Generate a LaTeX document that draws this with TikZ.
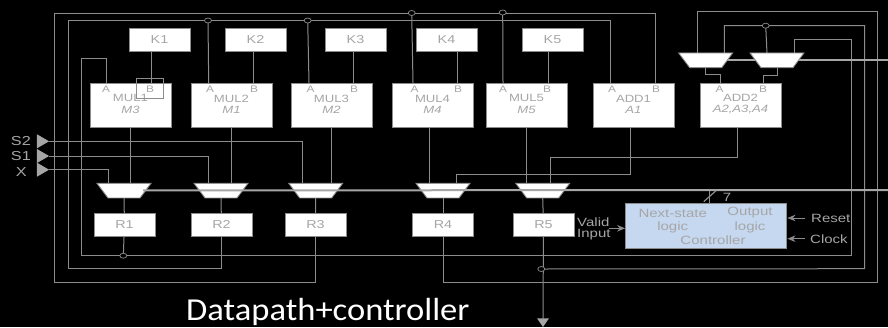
\documentclass[tikz,border=0pt]{standalone}
\usepackage{fontspec}
\setmainfont[FakeStretch=1.25]{Liberation Sans}
\newfontfamily\capfont[FakeStretch=1.08]{Carlito}
\usetikzlibrary{shapes.geometric,arrows.meta}
\definecolor{wire}{HTML}{8C8C8C}
\definecolor{bus}{HTML}{A6A6A6}
\definecolor{lab}{HTML}{A6A6A6}
\definecolor{ctl}{HTML}{C5D8F0}
\newcommand{\muxdraw}[1]{\draw[draw=wire,fill=white,line width=0.9pt] (#1.north west) -- (#1.north east) -- ([xshift=-11pt]#1.south east) -- ([xshift=11pt]#1.south west) -- cycle;}
\tikzset{
  wirel/.style={draw=wire,line width=1pt},
  busl/.style={draw=bus,line width=2pt},
  kbox/.style={draw=wire,fill=white,line width=1pt,minimum width=61pt,minimum height=23pt,inner sep=0pt,text=lab,font=\fontsize{11.5}{12}\selectfont},
  fu/.style={draw=wire,fill=white,line width=1pt,minimum width=81pt,minimum height=44pt,inner sep=0pt,text=lab,align=center,font=\fontsize{10.5}{11.5}\selectfont},
  port/.style={text=lab,inner sep=0pt,font=\fontsize{9.5}{10}\selectfont},
  muxs/.style={minimum width=54pt,minimum height=14.7pt,inner sep=0pt,outer sep=0pt},
  dotn/.style={ellipse,draw=wire,fill=black,line width=0.7pt,minimum width=7pt,minimum height=5pt,inner sep=0pt},
  inp/.style={isosceles triangle,isosceles triangle apex angle=60,fill=lab,draw=none,minimum height=12pt,minimum width=14pt,inner sep=0pt},
  ltxt/.style={text=lab,inner sep=0pt,font=\fontsize{13}{13}\selectfont},
  ctxt/.style={text=lab,inner sep=0pt,font=\fontsize{12}{12}\selectfont},
  arr/.style={draw=wire,line width=1pt,-{Stealth[length=8pt,width=6.5pt]}}
}
\begin{document}
\begin{tikzpicture}[x=1pt,y=-1pt]
\fill[black] (0,0) rectangle (888,327);
\useasboundingbox (0,0) rectangle (888,327);
% coordinates for wire routing
\coordinate (tl1) at (54.5,13.5);
\coordinate (tr1) at (655,13.5);
\coordinate (tl2) at (68,20.5);
\coordinate (tr2) at (610.7,20.5);
\coordinate (bl1) at (54.5,282.7);
\coordinate (bl2) at (68,268.7);
\coordinate (bl3) at (81.5,255.7);
\coordinate (l3t) at (81.5,58);
\coordinate (rt1) at (877.7,11.3);
\coordinate (rt2) at (864.7,25.5);
\coordinate (rt3) at (851.7,39.7);
\coordinate (rb1) at (877.7,282.7);
\coordinate (rb2) at (864.7,268.7);
\coordinate (rb3) at (851.7,255.7);
\coordinate (bfree) at (543,318.5);
\coordinate (busup) at (888,60.3);
\coordinate (buslo) at (888,190);
% boxes
\node[kbox] (k1) at (159.5,39.5) {K1};
\node[kbox] (k2) at (255.5,39.5) {K2};
\node[kbox] (k3) at (355.5,39.5) {K3};
\node[kbox] (k4) at (446.5,39.5) {K4};
\node[kbox] (k5) at (552.5,39.5) {K5};
\node[fu] (mul1) at (130.5,105) {\\[-6pt]MUL1\\\textit{M3}};
\node[fu] (mul2) at (231.5,105) {\\[-6pt]MUL2\\\textit{M1}};
\node[fu] (mul3) at (331.5,105) {\\[-6pt]MUL3\\\textit{M2}};
\node[fu] (mul4) at (432.5,105) {\\[-6pt]MUL4\\\textit{M4}};
\node[fu] (mul5) at (526.5,105) {\\[-6pt]MUL5\\\textit{M5}};
\node[fu] (add1) at (633.5,105) {\\[-6pt]ADD1\\\textit{A1}};
\node[fu] (add2) at (740.5,105) {\\[-6pt]ADD2\\\textit{A2,A3,A4}};
\node[muxs] (mx1) at (124,190.6) {};
\node[muxs] (mx2) at (221,190.6) {};
\node[muxs] (mx3) at (315.7,190.6) {};
\node[muxs] (mx4) at (443,190.6) {};
\node[muxs] (mx5) at (542.7,190.6) {};
\node[muxs] (mxa) at (705.7,60.3) {};
\node[muxs] (mxb) at (777,60.3) {};
\coordinate (r1) at (124.5,224.5);
\coordinate (r2) at (221.5,224.5);
\coordinate (r3) at (315.5,224.5);
\coordinate (r4) at (443,224.5);
\coordinate (r5) at (543.5,224.5);
% inputs
\node[inp] (s2) at (41,141.3) {};
\node[inp] (s1) at (41,156) {};
\node[inp] (x) at (41,169.7) {};
\node[ltxt,anchor=east] (s2l) at (31,141.3) {S2};
\node[ltxt,anchor=east] (s1l) at (31,156) {S1};
\node[ltxt,anchor=east] (xl) at (27,172) {X};
% junction dots positions
\coordinate (d1) at (208,20.5);
\coordinate (d2) at (307.7,20.5);
\coordinate (d3) at (411.7,13);
\coordinate (d4) at (502.7,12.5);
\coordinate (d5) at (765.7,25.7);
\coordinate (d6) at (123.3,255.7);
\coordinate (d7) at (541.3,269);
% wires
\draw[wirel] (bl1) -- (tl1) -- (tr1) -- (tr1 |- add1.north);
\draw[wirel] (bl2) -- (tl2) -- (tr2) -- (tr2 |- add1.north);
\draw[wirel] (d1) -- (208.7,83);
\draw[wirel] (d2) -- (309,83);
\draw[wirel] (d3) -- (413,83);
\draw[wirel] (d4) -- (503,83);
\draw[wirel] (151,51) -- (151,83);
\draw[wirel] (253,51) -- (253,83);
\draw[wirel] (353,51) -- (353,83);
\draw[wirel] (457,51) -- (457,83);
\draw[wirel] (548,51) -- (548,83);
\draw[wirel] (106,83) -- (106,58) -- (l3t) -- (bl3) -- (d6) -- (rb3) -- (rt3) -- (794,39.7) -- (794,53);
\draw[wirel] (r1) -- (d6);
\draw[wirel] (bl2) -- (221.5,268.7) -- (r2);
\draw[wirel] (bl1) -- (315.5,282.7) -- (r3);
\draw[wirel] (r4) -- (443,282.7) -- (rb1) -- (rt1) -- (697.3,11.3) -- (697.3,53);
\draw[wirel] (d7) -- (rb2) -- (rt2) -- (724.3,25.5) -- (724.3,53);
\draw[wirel] (d5) -- (767,53);
\draw[wirel] (r5) -- (bfree);
\fill[lab] (537,318.3) -- (549,318.3) -- (543,327) -- cycle;
\draw[wirel] (s2.east) -- (302.3,141.3) -- (302.3,183.3);
\draw[wirel] (s1.east) -- (208,156) -- (208,183.3);
\draw[wirel] (x.east) -- (108,169.7) -- (108,183.3);
\draw[wirel] (mul1.south) -- (mul1.south |- mx1.north);
\draw[wirel] (mul2.south) -- (mul2.south |- mx2.north);
\draw[wirel] (mul3.south) -- (mul3.south |- mx3.north);
\draw[wirel] (429.7,127) -- (429.7,183.3);
\draw[wirel] (mul5.south) -- (mul5.south |- mx5.north);
\draw[wirel] (630.7,127) -- (630.7,174) -- (456.3,174) -- (456.3,183.3);
\draw[wirel] (737.7,127) -- (737.7,157) -- (550,157) -- (550,183.3);
\draw[wirel] (mx1.south) -- (r1);
\draw[wirel] (mx2.south) -- (r2);
\draw[wirel] (mx3.south) -- (r3);
\draw[wirel] (mx4.south) -- (r4);
\draw[wirel] (mx5.south) -- (r5);
\draw[wirel] (705,67.7) -- (705,74) -- (720,74) -- (720,83);
\draw[wirel] (777.3,67.7) -- (777.3,75.3) -- (763,75.3) -- (763,83);
% register boxes above the wires
\node[kbox] (R1) at (r1) {R1};
\node[kbox] (R2) at (r2) {R2};
\node[kbox] (R3) at (r3) {R3};
\node[kbox] (R4) at (r4) {R4};
\node[kbox] (R5) at (r5) {R5};
\node[dotn] (D1) at (d1) {};
\node[dotn] (D2) at (d2) {};
\node[dotn] (D3) at (d3) {};
\node[dotn] (D4) at (d4) {};
\node[dotn] (D5) at (d5) {};
\node[dotn] (D6) at (d6) {};
\node[dotn] (D7) at (d7) {};
% upper bus runs below the upper muxes
\draw[busl] (mxa.center) -- (busup);
\muxdraw{mxa}
\muxdraw{mxb}
\muxdraw{mx1}
\muxdraw{mx2}
\muxdraw{mx3}
\muxdraw{mx4}
\muxdraw{mx5}
% lower bus on top of the muxes
\draw[busl] (143,190.4) -- (buslo);
\draw[draw=wire,line width=1pt] (136.7,78.7) rectangle (163.7,98.7);
% ports
\foreach \n/\x/\t in {a1/106/A,b1/150/B,a2/210/A,b2/254/B,a3/310.5/A,b3/354/B,a4/414.5/A,b4/458/B,a5/503/A,b5/547/B,a6/612/A,b6/656/B,a7/719.5/A,b7/763/B}
  \node[port] (p\n) at (\x,89) {\t};
% controller
\node[draw=wire,fill=ctl,line width=1pt,minimum width=161.3pt,minimum height=45.7pt,inner sep=0pt] (ctrl) at (706.3,225.9) {};
\coordinate (sl) at (709.7,190.5);
\draw[draw=wire,line width=1.5pt] (ctrl.north -| sl) -- (sl);
\draw[draw=wire,line width=1.2pt] (703.7,201.7) -- (716,190.7);
\node[ctxt] (seven) at (727,197) {7};
\node[ctxt] (ns) at (672.7,213) {Next-state};
\node[ctxt] (ns2) at (672.7,227) {logic};
\node[ctxt] (ou) at (750,213) {Output};
\node[ctxt] (ou2) at (750,227) {logic};
\node[ctxt] (co) at (713,240) {Controller};
\node[ctxt,anchor=west] (v1) at (577,222) {Valid};
\node[ctxt,anchor=west] (v2) at (577,235) {Input};
\coordinate (vs) at (609,228.3);
\draw[arr] (vs) -- (vs -| ctrl.west);
\node[ctxt,anchor=west] (rs) at (811,218.5) {Reset};
\node[ctxt,anchor=west] (ck) at (810,239) {Clock};
\coordinate (rsa) at (805,218);
\coordinate (cka) at (805,238.7);
\draw[arr] (rsa) -- (rsa -| ctrl.east);
\draw[arr] (cka) -- (cka -| ctrl.east);
\node[text=white,inner sep=0pt,anchor=base west,font=\capfont\fontsize{32}{32}\selectfont] (cap) at (186,320.5) {Datapath+controller};
\end{tikzpicture}
\end{document}
